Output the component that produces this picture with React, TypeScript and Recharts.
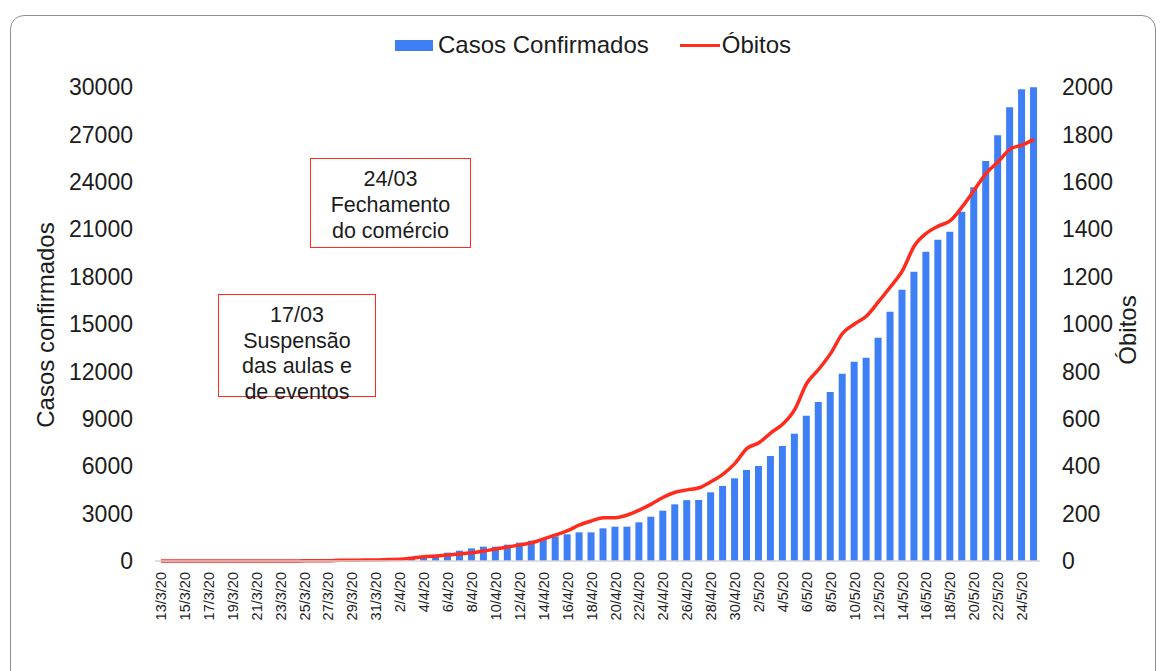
import { ComposedChart, Bar, Line, XAxis, YAxis } from 'recharts';

const datas = [
  '13/3/20', '14/3/20', '15/3/20', '16/3/20', '17/3/20', '18/3/20', '19/3/20', '20/3/20', '21/3/20', '22/3/20',
  '23/3/20', '24/3/20', '25/3/20', '26/3/20', '27/3/20', '28/3/20', '29/3/20', '30/3/20', '31/3/20', '1/4/20',
  '2/4/20', '3/4/20', '4/4/20', '5/4/20', '6/4/20', '7/4/20', '8/4/20', '9/4/20', '10/4/20', '11/4/20',
  '12/4/20', '13/4/20', '14/4/20', '15/4/20', '16/4/20', '17/4/20', '18/4/20', '19/4/20', '20/4/20', '21/4/20',
  '22/4/20', '23/4/20', '24/4/20', '25/4/20', '26/4/20', '27/4/20', '28/4/20', '29/4/20', '30/4/20', '1/5/20',
  '2/5/20', '3/5/20', '4/5/20', '5/5/20', '6/5/20', '7/5/20', '8/5/20', '9/5/20', '10/5/20', '11/5/20',
  '12/5/20', '13/5/20', '14/5/20', '15/5/20', '16/5/20', '17/5/20', '18/5/20', '19/5/20', '20/5/20', '21/5/20',
  '22/5/20', '23/5/20', '24/5/20', '25/5/20',
];

const casos = [
  1, 1, 2, 2, 3, 3, 7, 11, 20, 26,
  32, 40, 47, 55, 67, 75, 81, 90, 100, 110,
  180, 272, 311, 380, 527, 652, 800, 907, 907, 1033,
  1160, 1287, 1434, 1560, 1688, 1814, 1814, 2068, 2173, 2173,
  2447, 2806, 3186, 3586, 3850, 3861, 4347, 4747, 5232, 5759,
  6012, 6645, 7278, 8059, 9198, 10063, 10696, 11857, 12616, 12869,
  14135, 15781, 17173, 18312, 19578, 20335, 20842, 22108, 23650, 25316,
  26943, 28715, 29854, 29980,
];

const obitos = [
  0, 0, 0, 0, 0, 0, 0, 0, 0, 0,
  0, 0, 1, 1, 1, 3, 3, 4, 4, 6,
  7, 12, 18, 21, 25, 30, 35, 42, 51, 59,
  68, 77, 93, 110, 128, 152, 169, 183, 183, 194,
  215, 240, 269, 290, 300, 309, 335, 367, 412, 475,
  499, 541, 578, 640, 750, 809, 876, 961, 1000, 1034,
  1094, 1157, 1225, 1330, 1383, 1413, 1436, 1495, 1565, 1636,
  1685, 1738, 1755, 1779,
];

const ticksCasos = [0, 3000, 6000, 9000, 12000, 15000, 18000, 21000, 24000, 27000, 30000];
const ticksObitos = [0, 200, 400, 600, 800, 1000, 1200, 1400, 1600, 1800, 2000];

const data = datas.map((d, i) => ({ data: d, casos: casos[i], obitos: obitos[i] }));

const FONT = '"Liberation Sans", Arial, sans-serif';
const TEXT = '#1c1c1c';
const BLUE = '#3f7ff6';
const RED = '#ff2b1c';

const DateTick = ({ x, y, payload }: any) => (
  <g transform={`translate(${x},${y})`}>
    <text transform="rotate(-90)" textAnchor="end" dy="0.35em" fontSize={14.5} fill={TEXT} fontFamily={FONT}>
      {payload.value}
    </text>
  </g>
);

const boxStyle: React.CSSProperties = {
  position: 'absolute',
  boxSizing: 'border-box',
  border: `1.5px solid ${RED}`,
  textAlign: 'center',
  fontSize: 21.5,
  color: TEXT,
  background: '#fff',
};

const titleStyle: React.CSSProperties = {
  position: 'absolute',
  height: 28,
  lineHeight: '28px',
  textAlign: 'center',
  fontSize: 24,
  color: TEXT,
  transform: 'rotate(-90deg)',
};

export default function App() {
  return (
    <div style={{ position: 'absolute', left: 0, top: 0, width: 1162, height: 671, background: '#fff', overflow: 'hidden', fontFamily: FONT }}>
      <div style={{ position: 'absolute', left: 10, top: 15, width: 1146, height: 720, border: '1px solid #8f8f8f', borderRadius: 14, boxSizing: 'border-box' }} />
      <div style={{ position: 'absolute', left: 0, top: 0 }}>
        <ComposedChart width={1162} height={671} data={data} margin={{ top: 87, right: 0, bottom: 50, left: 0 }} barSize={7}>
          <XAxis
            dataKey="data"
            interval={1}
            height={60}
            tickSize={0}
            tickMargin={11}
            tick={<DateTick />}
            axisLine={{ stroke: '#d6d6d6', strokeWidth: 1.5 }}
            tickLine={false}
          />
          <YAxis
            yAxisId="casos"
            orientation="left"
            width={155}
            domain={[0, 30000]}
            ticks={ticksCasos}
            tickSize={0}
            tickMargin={22}
            axisLine={false}
            tickLine={false}
            tick={{ fontSize: 23, fill: TEXT, fontFamily: FONT }}
          />
          <YAxis
            yAxisId="obitos"
            orientation="right"
            width={122}
            domain={[0, 2000]}
            ticks={ticksObitos}
            tickSize={0}
            tickMargin={22}
            axisLine={false}
            tickLine={false}
            tick={{ fontSize: 23, fill: TEXT, fontFamily: FONT }}
          />
          <Bar yAxisId="casos" dataKey="casos" name="Casos Confirmados" fill={BLUE} isAnimationActive={false} />
          <Line
            yAxisId="obitos"
            type="monotone"
            dataKey="obitos"
            name="Óbitos"
            stroke={RED}
            strokeWidth={3.5}
            dot={false}
            isAnimationActive={false}
          />
        </ComposedChart>
      </div>
      {/* legend */}
      <div style={{ position: 'absolute', left: 395, top: 30, display: 'flex', alignItems: 'center', fontSize: 24, color: TEXT, lineHeight: '30px' }}>
        <span style={{ width: 38, height: 11, background: BLUE, marginRight: 5 }} />
        <span>Casos Confirmados</span>
        <span style={{ width: 40, height: 3, background: RED, marginLeft: 31, marginRight: 2 }} />
        <span>Óbitos</span>
      </div>
      <div style={{ ...titleStyle, left: -104, top: 311, width: 300 }}>Casos confirmados</div>
      <div style={{ ...titleStyle, left: 1068, top: 316, width: 120 }}>Óbitos</div>
      <div style={{ ...boxStyle, left: 310, top: 158, width: 161, height: 90, lineHeight: '26px', paddingTop: 7 }}>
        24/03<br />Fechamento<br />do comércio
      </div>
      <div style={{ ...boxStyle, left: 218, top: 294, width: 158, height: 103, lineHeight: '25.5px', paddingTop: 8 }}>
        17/03<br />Suspensão<br />das aulas e<br />de eventos
      </div>
    </div>
  );
}
